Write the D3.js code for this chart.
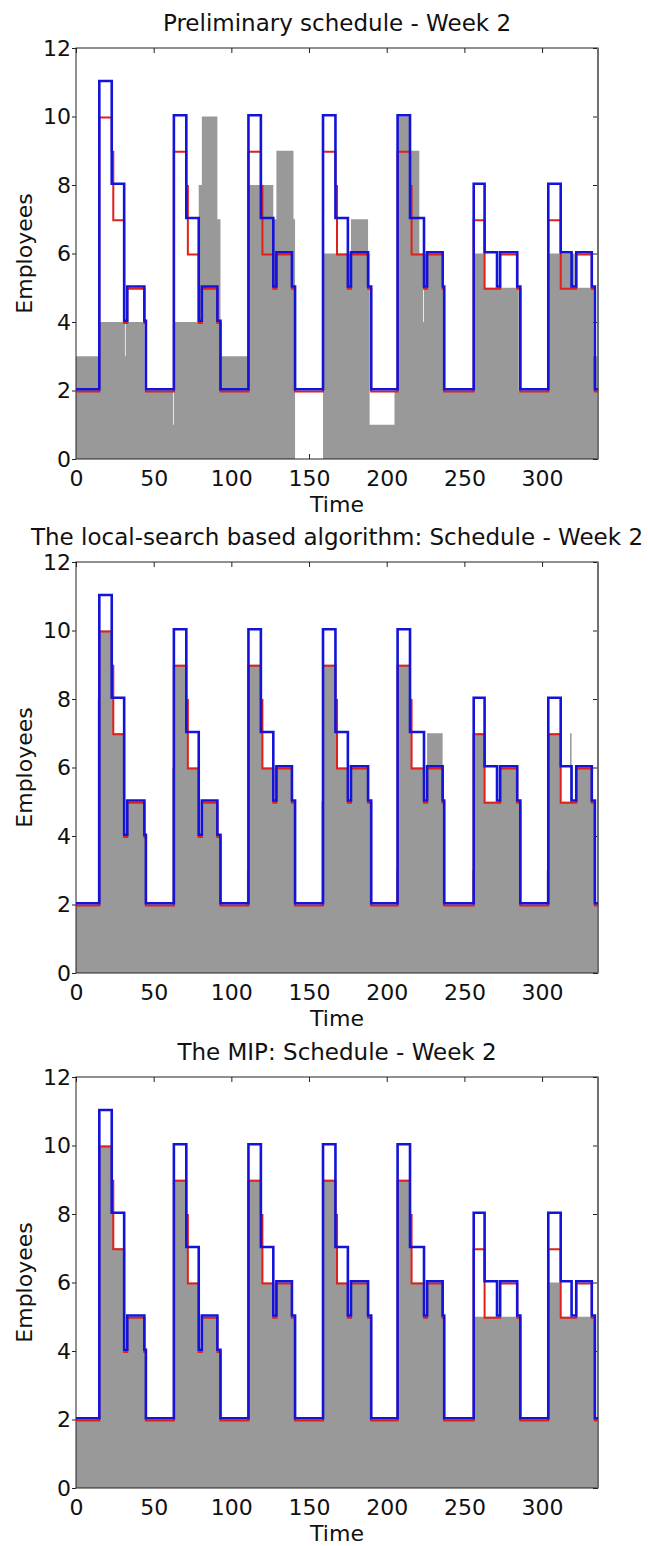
<!DOCTYPE html>
<html>
<head>
<meta charset="utf-8">
<script src="https://cdn.jsdelivr.net/npm/d3@7"></script>
<style>
body { margin: 0; background: #fff; }
text { font-family: "DejaVu Sans", Verdana, sans-serif; fill: #111; }
</style>
</head>
<body>
<script>
//step data: each array of start times goes with an array of values (value holds until next start)
var tEnd = 336;

//required staff (blue line)
var reqT = [0, 15, 23, 31, 33, 44, 45, 63, 71, 79, 81, 91, 93, 111, 119, 127, 129, 139, 141,
            159, 167, 175, 177, 188, 190, 207, 215, 224, 226, 236, 237, 256, 263, 271, 273, 284, 286,
            304, 312, 319, 322, 332, 334];
var reqV = [2, 11, 8, 4, 5, 4, 2, 10, 7, 4, 5, 4, 2, 10, 7, 5, 6, 5, 2,
            10, 7, 5, 6, 5, 2, 10, 7, 5, 6, 5, 2, 8, 6, 5, 6, 5, 2,
            8, 6, 5, 6, 5, 2];

//demand (red line)
var demT = [0, 15, 23, 24, 31, 33, 44, 45, 63, 71, 72, 79, 81, 91, 93, 111, 119, 120, 127, 129, 139, 141,
            159, 167, 168, 175, 177, 188, 190, 207, 215, 216, 224, 226, 236, 237, 256, 263, 273, 284, 286,
            304, 312, 322, 332, 334];
var demV = [2, 10, 9, 7, 4, 5, 4, 2, 9, 8, 6, 4, 5, 4, 2, 9, 8, 6, 5, 6, 5, 2,
            9, 8, 6, 5, 6, 5, 2, 9, 8, 6, 5, 6, 5, 2, 7, 5, 6, 5, 2,
            7, 5, 6, 5, 2];

//scheduled employees (gray) - preliminary schedule
var prelimT = [0, 15, 31.5, 32, 44, 62.5, 63, 79, 81, 91, 93, 111, 127, 129, 140, 141, 159, 177, 188, 189,
               205, 207, 215, 221, 223.5, 224, 235, 237, 256, 263, 285, 304, 321, 333];
var prelimV = [3, 4, 3, 4, 2, 1, 4, 8, 10, 7, 3, 8, 7, 9, 7, 0, 6, 7, 6, 1,
               2, 10, 9, 6, 4, 6, 5, 2, 6, 5, 2, 6, 5, 3];

//local-search schedule
var localT = [0, 14, 15, 23, 24, 31, 33, 44, 45, 62, 63, 71, 72, 79, 81, 91, 93, 110, 111, 119, 120, 127, 129, 139, 141,
              158, 159, 167, 168, 175, 177, 188, 190, 206, 207, 215, 216, 224, 226, 236, 237,
              255, 256, 263, 273, 284, 286, 303, 304, 312, 318, 319, 322, 332, 334];
var localV = [2, 8, 10, 9, 7, 4, 5, 4, 2, 6, 9, 8, 6, 4, 5, 4, 2, 3, 9, 8, 6, 5, 6, 5, 2,
              5, 9, 8, 6, 5, 6, 5, 2, 3, 9, 8, 6, 5, 7, 5, 2,
              3, 7, 5, 6, 5, 2, 3, 7, 5, 7, 5, 6, 5, 2];

//MIP schedule
var mipT = [0, 15, 23, 24, 31, 33, 44, 45, 63, 71, 72, 79, 81, 91, 93, 111, 119, 120, 127, 129, 139, 141,
            159, 167, 168, 175, 177, 188, 190, 207, 215, 216, 224, 226, 236, 237, 256, 286, 304, 312, 334];
var mipV = [2, 10, 9, 7, 4, 5, 4, 2, 9, 8, 6, 4, 5, 4, 2, 9, 8, 6, 5, 6, 5, 2,
            9, 8, 6, 5, 6, 5, 2, 9, 8, 6, 5, 6, 5, 2, 5, 2, 6, 5, 2];

var titles = ["Preliminary schedule - Week 2",
              "The local-search based algorithm: Schedule - Week 2",
              "The MIP: Schedule - Week 2"];
var xTicks = [0, 50, 100, 150, 200, 250, 300];
var yTicks = [0, 2, 4, 6, 8, 10, 12];

window.onload = drawCharts;

function toSteps(ts, vs) {
    var pts = ts.map(function (t, i) { return { t: t, v: vs[i] }; });
    pts.push({ t: tEnd, v: vs[vs.length - 1] });
    return pts;
}

function drawCharts() {
    var width = 648, height = 1546;
    var left = 76, right = 598, plotH = 411;
    var tops = [48, 562, 1077];
    var schedules = [toSteps(prelimT, prelimV), toSteps(localT, localV), toSteps(mipT, mipV)];
    var req = toSteps(reqT, reqV),
        dem = toSteps(demT, demV);

    var svg = d3.select("body").append("svg")
        .attr("width", width)
        .attr("height", height);

    var x = d3.scaleLinear().domain([0, tEnd]).range([left, right]);

    tops.forEach(function (top, i) {
        var bottom = top + plotH;
        var y = d3.scaleLinear().domain([0, 12]).range([bottom, top]);
        var g = svg.append("g");

        //ticks first, the data covers them
        var axB = g.append("g").attr("transform", "translate(0," + bottom + ")")
            .call(d3.axisBottom(x).tickValues(xTicks).tickSize(-5).tickPadding(11));
        var axT = g.append("g").attr("transform", "translate(0," + top + ")")
            .call(d3.axisTop(x).tickValues(xTicks).tickSize(-5).tickFormat(""));
        var axL = g.append("g").attr("transform", "translate(" + left + ",0)")
            .call(d3.axisLeft(y).tickValues(yTicks).tickSize(4).tickPadding(1));
        var axR = g.append("g").attr("transform", "translate(" + right + ",0)")
            .call(d3.axisRight(y).tickValues(yTicks).tickSize(-5).tickFormat(""));
        [axB, axT, axL, axR].forEach(function (a) {
            a.select(".domain").remove();
            a.selectAll("line").attr("stroke", "#222");
            a.selectAll("text").attr("font-size", 22)
                .attr("font-family", "DejaVu Sans, Verdana, sans-serif").attr("fill", "#111");
        });

        var area = d3.area().curve(d3.curveStepAfter)
            .x(function (d) { return x(d.t); })
            .y0(bottom)
            .y1(function (d) { return y(d.v); });
        var line = d3.line().curve(d3.curveStepAfter)
            .x(function (d) { return x(d.t); })
            .y(function (d) { return y(d.v); });

        g.append("path").datum(schedules[i])
            .attr("d", area)
            .attr("fill", "#999999");

        //axes box
        g.append("rect")
            .attr("x", left).attr("y", top)
            .attr("width", right - left).attr("height", plotH)
            .attr("fill", "none").attr("stroke", "#222").attr("stroke-width", 1);
        g.append("line")
            .attr("x1", right).attr("x2", right).attr("y1", top).attr("y2", bottom)
            .attr("stroke", "#707070").attr("stroke-width", 2);

        g.append("path").datum(dem)
            .attr("d", line)
            .attr("transform", "translate(0,0.9)")
            .attr("fill", "none")
            .attr("stroke", "#e0201a")
            .attr("stroke-width", 2);
        g.append("path").datum(req)
            .attr("d", line)
            .attr("transform", "translate(0,-1.3)")
            .attr("fill", "none")
            .attr("stroke", "#1414d8")
            .attr("stroke-width", 2.6);

        g.append("text")
            .attr("x", (left + right) / 2).attr("y", top - 17)
            .attr("text-anchor", "middle")
            .attr("font-size", 23)
            .text(titles[i]);
        g.append("text")
            .attr("x", (left + right) / 2).attr("y", bottom + 53)
            .attr("text-anchor", "middle")
            .attr("font-size", 22)
            .text("Time");
        g.append("text")
            .attr("transform", "translate(32," + (top + plotH / 2) + ") rotate(-90)")
            .attr("text-anchor", "middle")
            .attr("font-size", 22)
            .text("Employees");
    });
}
</script>
</body>
</html>
